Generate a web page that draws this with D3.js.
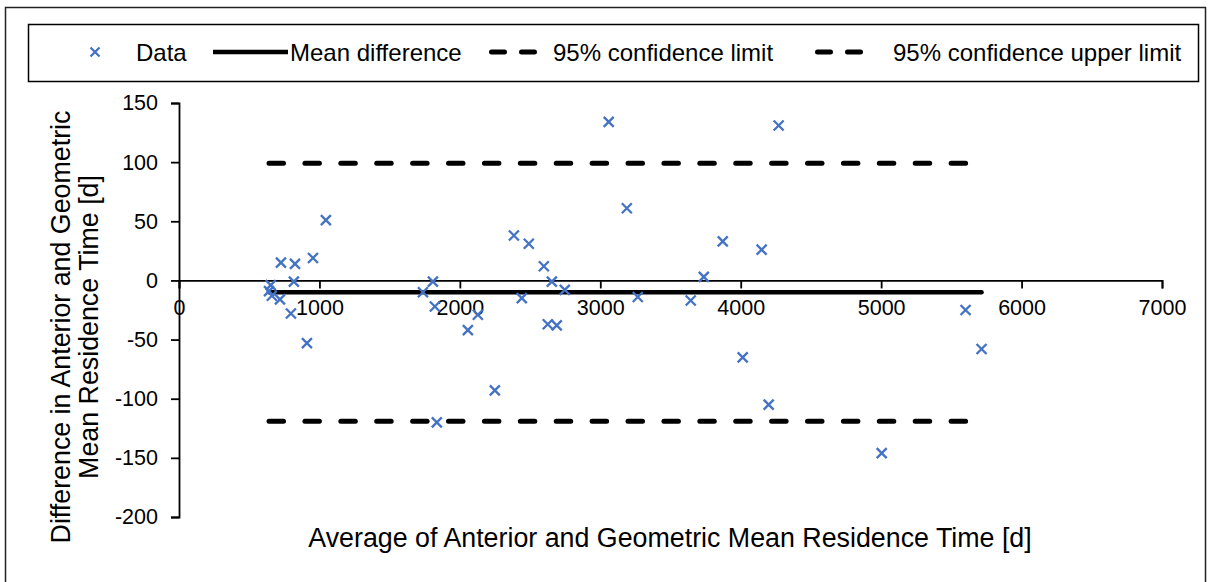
<!DOCTYPE html>
<html lang="en">
<head>
    <meta charset="UTF-8">
    <title>Bland-Altman plot</title>
    <style>
        body { margin: 0; background: #fff; }
        text { font-family: "Liberation Sans", Arial, sans-serif; fill: #000; }
        .axis path, .axis line { stroke: #000; stroke-width: 1.8px; }
        .axis text { font-size: 21.5px; }
    </style>
</head>
<body>
    <div id="chart"></div>

    <script src="https://d3js.org/d3.v7.min.js"></script>
    <script>
        // Average of the two methods [d]
        const avgValues = [653, 641, 661, 719, 726, 797, 818, 826, 911, 954, 1046,
            1737, 1808, 1822, 1836, 2057, 2128, 2249, 2385, 2441, 2491, 2598, 2626,
            2655, 2690, 2747, 3060, 3189, 3267, 3644, 3737, 3872, 4014, 4149, 4199,
            4270, 5004, 5601, 5715];
        // Difference between the two methods [d]
        const diffValues = [-4, -9, -13, -16, 15, -28, -1, 14, -53, 19, 51,
            -10, -1, -22, -120, -42, -29, -93, 38, -15, 31, 12, -37,
            -1, -38, -8, 134, 61, -14, -17, 3, 33, -65, 26, -105,
            131, -146, -25, -58];

        const meanDiff = -10;
        const upperLimit = 99;
        const lowerLimit = -119;

        const xTicks = [0, 1000, 2000, 3000, 4000, 5000, 6000, 7000];
        const yTicks = [-200, -150, -100, -50, 0, 50, 100, 150];

        const legendLabels = ['Data', 'Mean difference', '95% confidence limit', '95% confidence upper limit'];

        const W = 1208, H = 582;
        const points = avgValues.map((a, i) => ({ a, d: diffValues[i] }));

        const svg = d3.select('#chart').append('svg')
            .attr('width', W)
            .attr('height', H);

        // outer frame
        svg.append('rect')
            .attr('x', 5.5).attr('y', 7.5)
            .attr('width', 1200).attr('height', 600)
            .attr('fill', 'none').attr('stroke', '#222').attr('stroke-width', 1.5);

        const x = d3.scaleLinear().domain([0, 7000]).range([179, 1162]);
        const y = d3.scaleLinear().domain([-200, 150]).range([517, 103]);
        const plain = d => String(d);

        // axes cross at 0
        svg.append('g')
            .attr('class', 'axis')
            .attr('transform', `translate(0,${y(0)})`)
            .call(d3.axisBottom(x).tickValues(xTicks).tickFormat(plain)
                .tickSize(8).tickPadding(11).tickSizeOuter(8));

        svg.append('g')
            .attr('class', 'axis')
            .attr('transform', `translate(${x(0)},0)`)
            .call(d3.axisLeft(y).tickValues(yTicks).tickFormat(plain)
                .tickSize(8).tickPadding(13).tickSizeOuter(8));

        // mean and limit lines across the data range
        const [xMin, xMax] = d3.extent(avgValues);
        const hLine = (v, dashed, w) => svg.append('line')
            .attr('x1', x(xMin)).attr('x2', x(xMax))
            .attr('y1', y(v)).attr('y2', y(v))
            .attr('stroke', '#000')
            .attr('stroke-width', w)
            .attr('stroke-linecap', 'round')
            .attr('stroke-dasharray', dashed ? '14.5 21.4' : null);

        hLine(meanDiff, false, 4.5);
        hLine(lowerLimit, true, 5);
        hLine(upperLimit, true, 5);

        // data markers
        const cross = s => `M${-s},${-s}L${s},${s}M${-s},${s}L${s},${-s}`;
        svg.append('g').selectAll('path')
            .data(points)
            .enter().append('path')
            .attr('d', cross(5))
            .attr('transform', p => `translate(${x(p.a)},${y(p.d)})`)
            .attr('stroke', '#4472C4')
            .attr('stroke-width', 2.3)
            .attr('fill', 'none');

        // axis titles
        svg.append('text')
            .attr('x', 670).attr('y', 547)
            .attr('text-anchor', 'middle')
            .style('font-size', '26.8px')
            .text('Average of Anterior and Geometric Mean Residence Time [d]');

        const yTitle = svg.append('text')
            .attr('transform', 'translate(60,327) rotate(-90)')
            .attr('text-anchor', 'middle')
            .style('font-size', '26.8px');
        yTitle.append('tspan').attr('x', 0).attr('y', 9.5).text('Difference in Anterior and Geometric');
        yTitle.append('tspan').attr('x', 0).attr('y', 37.5).text('Mean Residence Time [d]');

        // legend
        const legend = svg.append('g');
        legend.append('rect')
            .attr('x', 28.5).attr('y', 24.5)
            .attr('width', 1170).attr('height', 57)
            .attr('fill', '#fff').attr('stroke', '#000').attr('stroke-width', 1.5);

        const ly = 52;
        legend.append('path')
            .attr('d', cross(4.5))
            .attr('transform', `translate(95,${ly})`)
            .attr('stroke', '#4472C4').attr('stroke-width', 2.3).attr('fill', 'none');

        legend.append('line')
            .attr('x1', 213).attr('x2', 288).attr('y1', ly).attr('y2', ly)
            .attr('stroke', '#000').attr('stroke-width', 4.5);

        [[489, 537], [815, 867]].forEach(([a, b]) => {
            legend.append('line')
                .attr('x1', a + 2.5).attr('x2', b - 2.5).attr('y1', ly).attr('y2', ly)
                .attr('stroke', '#000').attr('stroke-width', 5)
                .attr('stroke-linecap', 'round')
                .attr('stroke-dasharray', '13 17');
        });

        const labelX = [136, 290, 553, 893];
        legend.selectAll('text.lbl')
            .data(legendLabels)
            .enter().append('text')
            .attr('class', 'lbl')
            .attr('x', (d, i) => labelX[i])
            .attr('y', ly + 8.5)
            .style('font-size', '24px')
            .text(d => d);
    </script>
</body>
</html>
